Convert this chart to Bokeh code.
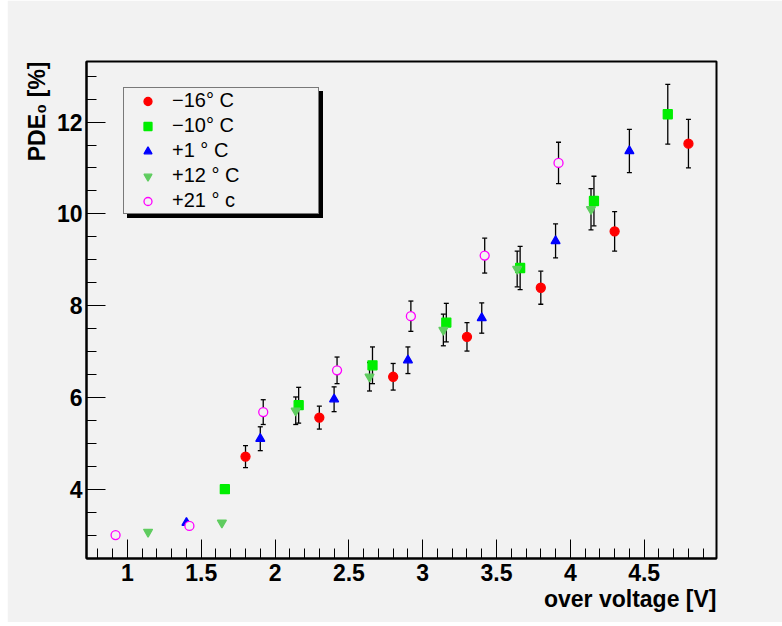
from bokeh.plotting import figure
from bokeh.models import (Range1d, SingleIntervalTicker, CustomJSTickFormatter, Whisker, TeeHead,
                          ColumnDataSource, Legend, LegendItem, Title, Spacer)
from bokeh.layouts import row
from bokeh.embed import file_html
from bokeh.resources import INLINE

# ---------------- data ----------------
m16_x = [1.80, 2.30, 2.80, 3.30, 3.80, 4.30, 4.80]
m16_y = [4.71, 5.56, 6.45, 7.32, 8.39, 9.62, 11.53]
m16_e = [0.24, 0.25, 0.29, 0.31, 0.36, 0.43, 0.53]

m10_x = [1.66, 2.16, 2.66, 3.16, 3.66, 4.16, 4.66]
m10_y = [4.00, 5.83, 6.70, 7.63, 8.82, 10.28, 12.17]
m10_e = [0.00, 0.39, 0.40, 0.42, 0.47, 0.54, 0.65]

p1_x = [1.40, 1.90, 2.40, 2.90, 3.40, 3.90, 4.40]
p1_y = [3.27, 5.10, 5.96, 6.81, 7.73, 9.41, 11.37]
p1_e = [0.00, 0.26, 0.27, 0.29, 0.33, 0.37, 0.47]

p12_x = [1.14, 1.64, 2.14, 2.64, 3.14, 3.64, 4.14]
p12_y = [3.07, 3.27, 5.71, 6.45, 7.47, 8.80, 10.10]
p12_e = [0.00, 0.00, 0.30, 0.31, 0.345, 0.39, 0.45]

p21_x = [0.92, 1.42, 1.92, 2.42, 2.92, 3.42, 3.92]
p21_y = [3.00, 3.20, 5.68, 6.59, 7.77, 9.09, 11.11]
p21_e = [0.00, 0.00, 0.27, 0.29, 0.33, 0.38, 0.45]

labels = ["\u221216\u00b0 C", "\u221210\u00b0 C", "+1 \u00b0 C", "+12 \u00b0 C", "+21 \u00b0 c"]
x_title = "over voltage [V]"
y_title = "PDE\u2080 [%]"

# ---------------- style ----------------
BG = "#f2f2f2"
FONT = "Liberation Sans"
series = [
    (m16_x, m16_y, m16_e, "circle", "#ff0000", "#ff0000", 9),
    (m10_x, m10_y, m10_e, "square", "#00ee00", "#00ee00", 9),
    (p1_x, p1_y, p1_e, "triangle", "#0000ff", "#0000ff", 9),
    (p12_x, p12_y, p12_e, "inverted_triangle", "#5fcc5f", "#5fcc5f", 9),
    (p21_x, p21_y, p21_e, "circle", BG, "#ff00ff", 9),
]

p = figure(width=775, height=622, output_backend="svg", toolbar_location=None,
           x_range=Range1d(0.723, 4.99), y_range=Range1d(2.49, 13.32),
           min_border_left=79, min_border_right=66, min_border_top=61, min_border_bottom=64,
           background_fill_color=BG, border_fill_color=BG)
p.grid.visible = False
p.outline_line_color = "black"
p.outline_line_width = 2

fmt = CustomJSTickFormatter(code="return String(Math.round(tick*10)/10)")
p.xaxis.ticker = SingleIntervalTicker(interval=0.5, num_minor_ticks=5)
p.yaxis.ticker = SingleIntervalTicker(interval=2, num_minor_ticks=4)
for ax in (p.xaxis[0], p.yaxis[0]):
    ax.formatter = fmt
    ax.axis_line_width = 2
    ax.axis_line_color = "black"
    ax.major_tick_in = 19
    ax.major_tick_out = 0
    ax.minor_tick_in = 10
    ax.minor_tick_out = 0
    ax.major_tick_line_color = "black"
    ax.minor_tick_line_color = "black"
    ax.major_label_text_font = FONT
    ax.major_label_text_font_style = "bold"
    ax.major_label_text_font_size = "23px"
    ax.major_label_text_color = "black"
p.yaxis.major_label_standoff = 4
p.xaxis.major_label_standoff = 5

main_items, shadow_items = [], []
for (xs, ys, es, mk, fc, lc, sz), lab in zip(series, labels):
    wx = [x for x, e in zip(xs, es) if e > 0]
    wy = [y for y, e in zip(ys, es) if e > 0]
    we = [e for e in es if e > 0]
    wsrc = ColumnDataSource(dict(x=wx, lo=[y - e for y, e in zip(wy, we)], hi=[y + e for y, e in zip(wy, we)]))
    w = Whisker(source=wsrc, base="x", lower="lo", upper="hi", dimension="height",
                line_color="black", line_width=1.3, level="underlay",
                upper_head=TeeHead(size=5, line_color="black", line_width=1.3),
                lower_head=TeeHead(size=5, line_color="black", line_width=1.3))
    p.add_layout(w)
    src = ColumnDataSource(dict(x=xs, y=ys))
    r = p.scatter("x", "y", source=src, marker=mk, size=sz, fill_color=fc, line_color=lc,
                  line_width=1.3)
    main_items.append(LegendItem(label=lab, renderers=[r]))
    shadow_items.append(LegendItem(label=" ", renderers=[r]))

common = dict(glyph_width=47, glyph_height=20, label_height=25, label_width=146,
              label_standoff=1, padding=0, spacing=0, margin=0,
              label_text_font=FONT, label_text_font_size="20px",
              border_line_color="black", border_line_width=1)
shadow = Legend(items=shadow_items, location=(41, 340), background_fill_color="black",
                background_fill_alpha=1, label_text_color="black", **common)
legend = Legend(items=main_items, location=(37, 344), background_fill_color=BG,
                background_fill_alpha=1, label_text_color="black", **common)
p.add_layout(shadow, "center")
p.add_layout(legend, "center")

tx = Title(text=x_title, align="right", text_font=FONT, text_font_style="bold",
           text_font_size="23px", standoff=0, text_color="black")
p.add_layout(tx, "below")
ty = Title(text=y_title, align="right", text_font=FONT, text_font_style="bold",
           text_font_size="23px", standoff=7, text_color="black")
p.add_layout(ty, "left")

layout = row(Spacer(width=7, height=626), p)
open("out.html", "w").write(file_html(layout, INLINE))
